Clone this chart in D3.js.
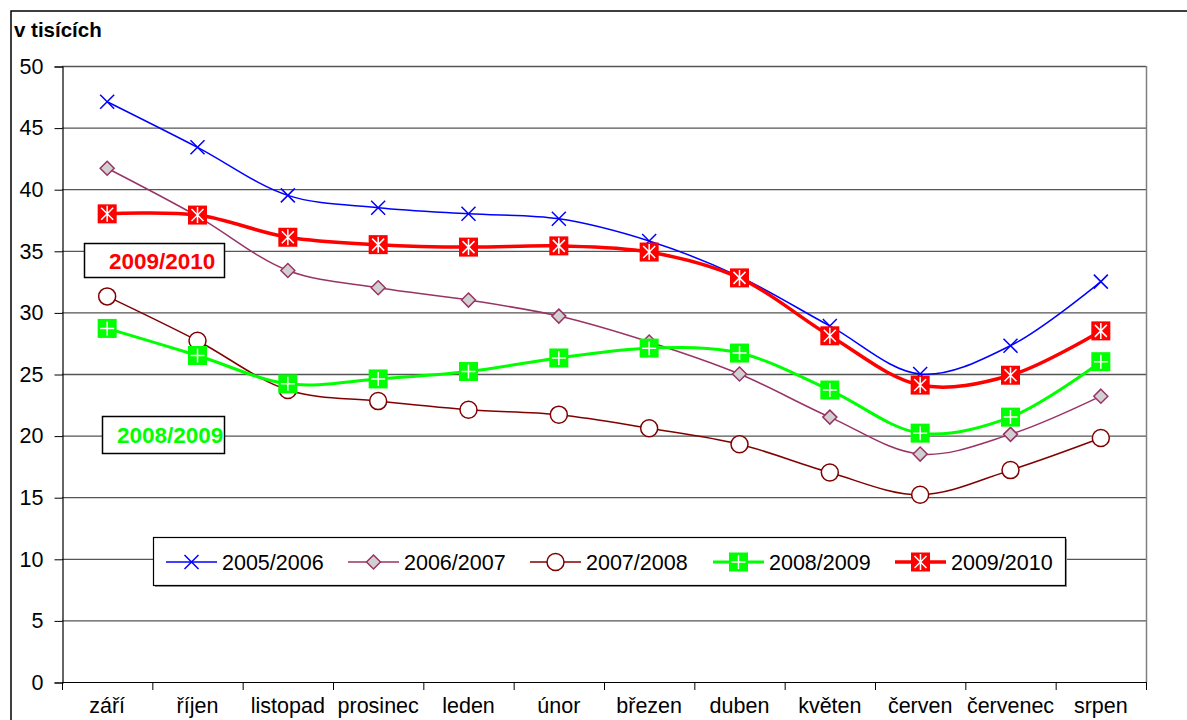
<!DOCTYPE html>
<html>
<head>
<meta charset="utf-8">
<script src="https://cdn.jsdelivr.net/npm/d3@7"></script>
<style>
body { margin: 0; background: #fff; }
text { font-family: Arial, "Liberation Sans", sans-serif; }
</style>
</head>
<body>
<script>
// categories and values (thousands)
var months = ['září','říjen','listopad','prosinec','leden','únor','březen','duben','květen','červen','červenec','srpen'];
var yTicks = [0,5,10,15,20,25,30,35,40,45,50];
var s0506 = [47.1,43.4,39.5,38.5,38.0,37.6,35.8,32.9,28.9,25.0,27.3,32.5];
var s0607 = [41.7,37.8,33.4,32.0,31.0,29.7,27.6,25.0,21.5,18.5,20.1,23.2];
var s0708 = [31.3,27.7,23.7,22.8,22.1,21.7,20.6,19.3,17.0,15.2,17.2,19.8];
var s0809 = [28.7,26.5,24.2,24.6,25.2,26.3,27.1,26.7,23.7,20.2,21.5,26.0];
var s0910 = [38.0,37.9,36.1,35.5,35.3,35.4,34.9,32.8,28.1,24.1,24.9,28.5];
var seriesNames = ['2005/2006','2006/2007','2007/2008','2008/2009','2009/2010'];

var series = [
  {name: seriesNames[0], values: s0506, color: '#0000ff', width: 1.5, marker: 'x'},
  {name: seriesNames[1], values: s0607, color: '#993366', width: 1.5, marker: 'diamond'},
  {name: seriesNames[2], values: s0708, color: '#800000', width: 1.5, marker: 'circle'},
  {name: seriesNames[3], values: s0809, color: '#00ff00', width: 3, marker: 'plus'},
  {name: seriesNames[4], values: s0910, color: '#ff0000', width: 3.5, marker: 'star'}
];

var W = 1187, H = 720;
var plotLeft = 62, plotRight = 1146, plotTop = 66, plotBottom = 682;

var svg = d3.select('body').append('svg').attr('width', W).attr('height', H);

// outer frame
svg.append('rect').attr('x', 11).attr('y', 11).attr('width', W + 20).attr('height', H + 20)
  .attr('fill', 'none').attr('stroke', '#000').attr('stroke-width', 1.5);

var x = d3.scaleBand().domain(months).range([plotLeft, plotRight]);
var y = d3.scaleLinear().domain([0, 50]).range([plotBottom, plotTop]);

// grid
svg.append('g').selectAll('line').data(yTicks.filter(d => d > 0)).enter().append('line')
  .attr('x1', plotLeft).attr('x2', plotRight).attr('y1', d => y(d) + 0.5).attr('y2', d => y(d) + 0.5)
  .attr('stroke', '#555').attr('stroke-width', 1.3);

// plot right border
svg.append('line').attr('x1', plotRight + 0.5).attr('x2', plotRight + 0.5).attr('y1', plotTop).attr('y2', plotBottom)
  .attr('stroke', '#808080').attr('stroke-width', 1.5);

// y axis
var yAxis = svg.append('g').attr('transform', 'translate(' + (plotLeft + 0.5) + ',0.5)')
  .call(d3.axisLeft(y).tickValues(yTicks).tickSize(8).tickPadding(11));
yAxis.select('.domain').attr('stroke', '#000').attr('stroke-width', 1.2);
yAxis.selectAll('.tick line').attr('stroke', '#000');
yAxis.selectAll('text').attr('font-size', 21.5).attr('fill', '#000').attr('font-family', 'Arial, "Liberation Sans", sans-serif');

// x axis with ticks at band boundaries
svg.append('line').attr('x1', plotLeft).attr('x2', plotRight).attr('y1', plotBottom + 0.5).attr('y2', plotBottom + 0.5)
  .attr('stroke', '#000').attr('stroke-width', 1.2);
var bounds = months.map(m => x(m)).concat([plotRight]);
svg.append('g').selectAll('line').data(bounds).enter().append('line')
  .attr('x1', d => d + 0.5).attr('x2', d => d + 0.5).attr('y1', plotBottom).attr('y2', plotBottom + 8)
  .attr('stroke', '#000');
svg.append('g').selectAll('text').data(months).enter().append('text')
  .attr('x', d => x(d) + x.bandwidth() / 2).attr('y', 713)
  .attr('text-anchor', 'middle').attr('font-size', 21.5).text(d => d);

// unit label
svg.append('text').attr('x', 14).attr('y', 37).attr('font-size', 20.5).attr('font-weight', 'bold').text('v tisících');

var line = d3.line()
  .x((d, i) => x(months[i]) + x.bandwidth() / 2)
  .y(d => y(d))
  .curve(d3.curveCatmullRom.alpha(0.5));

function drawMarker(g, type, color) {
  if (type === 'x') {
    g.append('path').attr('d', 'M-7,-7L7,7M-7,7L7,-7').attr('stroke', color).attr('stroke-width', 1.5).attr('fill', 'none');
  } else if (type === 'diamond') {
    g.append('path').attr('d', 'M0,-7L7,0L0,7L-7,0Z').attr('fill', '#d0d0d0').attr('stroke', color).attr('stroke-width', 1.5);
  } else if (type === 'circle') {
    g.append('circle').attr('r', 8.5).attr('fill', '#fff').attr('stroke', color).attr('stroke-width', 1.5);
  } else if (type === 'plus') {
    g.append('rect').attr('x', -9.5).attr('y', -9.5).attr('width', 19).attr('height', 19).attr('fill', color);
    g.append('path').attr('d', 'M-7,0L7,0M0,-7L0,7').attr('stroke', '#fff').attr('stroke-width', 1.5);
  } else if (type === 'star') {
    g.append('rect').attr('x', -9.5).attr('y', -9.5).attr('width', 19).attr('height', 19).attr('fill', color);
    g.append('path').attr('d', 'M-6,-6L6,6M-6,6L6,-6M0,-8L0,8').attr('stroke', '#fff').attr('stroke-width', 1.5);
  }
}

series.forEach(function (s) {
  var g = svg.append('g');
  g.append('path').attr('d', line(s.values)).attr('fill', 'none')
    .attr('stroke', s.color).attr('stroke-width', s.width);
  s.values.forEach(function (v, i) {
    var mg = g.append('g').attr('transform', 'translate(' + (x(months[i]) + x.bandwidth() / 2) + ',' + y(v) + ')');
    drawMarker(mg, s.marker, s.color);
  });
});

// legend
var legend = svg.append('g');
legend.append('rect').attr('x', 155).attr('y', 539).attr('width', 912).attr('height', 48).attr('fill', '#999');
legend.append('rect').attr('x', 153.5).attr('y', 537.5).attr('width', 912).attr('height', 48)
  .attr('fill', '#fff').attr('stroke', '#000').attr('stroke-width', 1.2);
var legendX = [166, 348, 530, 713, 895];
series.forEach(function (s, i) {
  var lg = legend.append('g').attr('transform', 'translate(' + legendX[i] + ',562)');
  lg.append('line').attr('x1', 0).attr('x2', 51).attr('stroke', s.color).attr('stroke-width', s.width);
  drawMarker(lg.append('g').attr('transform', 'translate(25.5,0)'), s.marker, s.color);
  lg.append('text').attr('x', 56).attr('y', 7.5).attr('font-size', 21.5).text(s.name);
});

// annotation boxes
var notes = [
  {text: seriesNames[4], color: '#ff0000', x: 84, y: 243, w: 140, h: 34, tx: 109},
  {text: seriesNames[3], color: '#00ff00', x: 102, y: 416, w: 122, h: 37, tx: 117}
];
notes.forEach(function (n) {
  svg.append('rect').attr('x', n.x + 0.5).attr('y', n.y + 0.5).attr('width', n.w).attr('height', n.h)
    .attr('fill', '#fff').attr('stroke', '#000').attr('stroke-width', 1.5);
  svg.append('text').attr('x', n.tx).attr('y', n.y + n.h / 2 + 8.5)
    .attr('font-size', 22.5).attr('font-weight', 'bold').attr('fill', n.color).text(n.text);
});
</script>
</body>
</html>
